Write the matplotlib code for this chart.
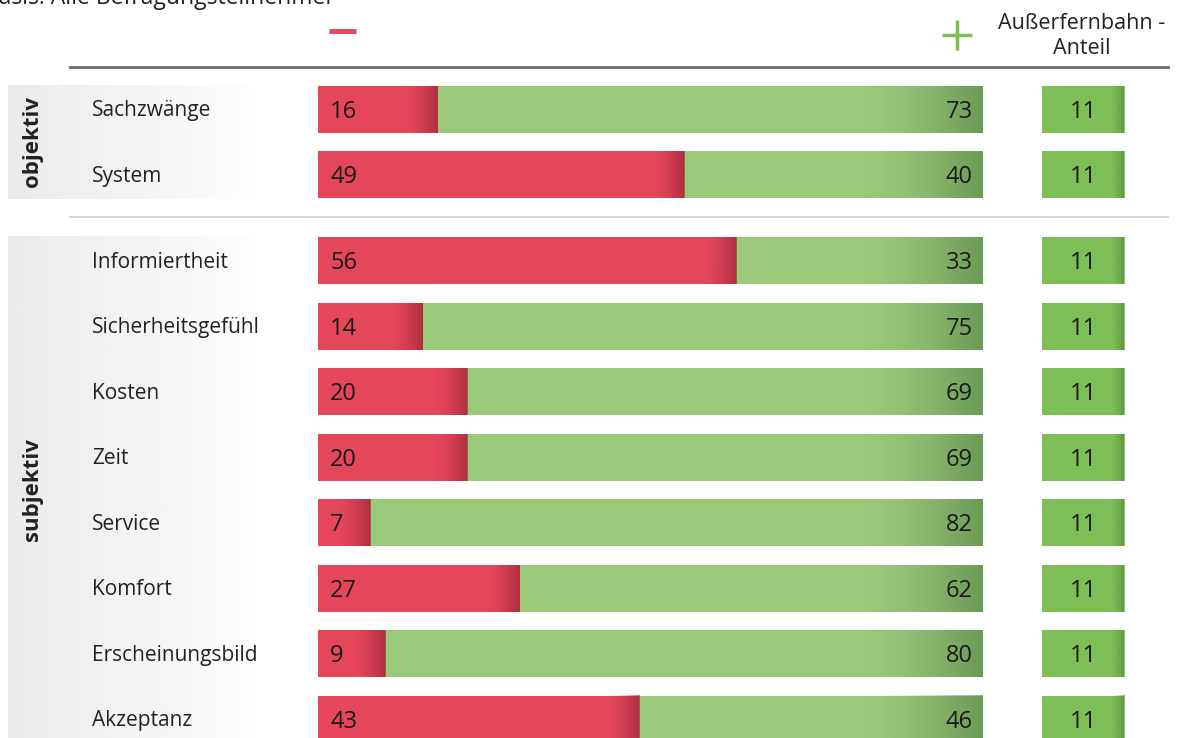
import numpy as np
import matplotlib.pyplot as plt
from matplotlib.colors import to_rgb

# data
categories = ["Sachzwänge", "System", "Informiertheit", "Sicherheitsgefühl", "Kosten",
              "Zeit", "Service", "Komfort", "Erscheinungsbild", "Akzeptanz"]
groups = ["objektiv", "subjektiv"]
group_of = [0, 0, 1, 1, 1, 1, 1, 1, 1, 1]
negative = [16, 49, 56, 14, 20, 20, 7, 27, 9, 43]
positive = [73, 40, 33, 75, 69, 69, 82, 62, 80, 46]
share = [11, 11, 11, 11, 11, 11, 11, 11, 11, 11]

RED = "#E5475A"
GREEN = "#9BC97A"
BOX = "#7DBE57"
FONT = "Open Sans"

W, H = 1178, 738
fig = plt.figure(figsize=(W / 100, H / 100), dpi=100)
ax = fig.add_axes([0, 0, 1, 1])

# layout helpers (pixel -> data)
x0_px, x1_px = 318, 983
unit = (x1_px - x0_px) / 89.0
pitch, top = 65.5, 109


def px(x):
    return (x - x0_px) / unit


def py(y):
    return (y - top) / pitch


def shade(xa, xb, yc, h, color, amax, power=1.5, reverse=False):
    n = 128
    rgba = np.zeros((1, n, 4))
    rgba[..., :3] = to_rgb(color)
    ramp = np.linspace(0, 1, n) ** power * amax
    rgba[..., 3] = ramp[::-1] if reverse else ramp
    ax.imshow(rgba, extent=(xa, xb, yc + h / 2, yc - h / 2), aspect="auto",
              interpolation="bilinear", zorder=3)


gap = (86 - pitch) / pitch
ypos = np.arange(len(categories)) + np.array(group_of) * gap
bh = 47 / pitch

# group background bands
for g, name in enumerate(groups):
    rows = ypos[np.array(group_of) == g]
    ya = rows.min() - bh / 2 - 0.01
    yb = rows.max() + bh / 2 + 0.01 if g == 0 else py(H + 5)
    shade(px(8), px(260), (ya + yb) / 2, yb - ya, "#EBEBEB", 1.0, power=0.9, reverse=True)
    ax.text(px(32), (ya + yb) / 2 if g == 0 else py(490), name, rotation=90,
            ha="center", va="center", fontsize=16, fontweight="bold",
            color="#222222", family=FONT, zorder=5)

neg = np.array(negative)
pos = np.array(positive)
shr = np.array(share)

ax.barh(ypos, neg, height=bh, color=RED, zorder=2)
ax.barh(ypos, pos, left=neg, height=bh, color=GREEN, zorder=2)
box_left = px(1042)
ax.barh(ypos, shr, left=box_left, height=bh, color=BOX, zorder=2)

for y, n, p, s, cat in zip(ypos, neg, pos, shr, categories):
    shade(n - 4.5, n, y, bh, "#8A1F30", 0.6)
    shade(n + p - 16, n + p, y, bh, "#4A7A42", 0.6)
    shade(box_left + s - 1.8, box_left + s, y, bh, "#4A7A30", 0.6)
    ty = y + 0.04
    ax.text(px(330), ty, str(n), ha="left", va="center", fontsize=17,
            color="#1a1a1a", family=FONT, zorder=5)
    ax.text(n + p - 1.4, ty, str(p), ha="right", va="center", fontsize=17,
            color="#1a1a1a", family=FONT, zorder=5)
    ax.text(box_left + s / 2, ty, str(s), ha="center", va="center", fontsize=17,
            color="#1a1a1a", family=FONT, zorder=5)
    ax.text(px(92), y + 0.03, cat, ha="left", va="center", fontsize=15,
            color="#222222", family=FONT, zorder=5)

# header
ax.text(px(-16), py(-2), "Basis: Alle Befragungsteilnehmer", ha="left", va="center",
        fontsize=16.5, color="#222222", family=FONT)
ax.plot([px(329), px(356)], [py(31), py(31)], color=RED, lw=3.5, solid_capstyle="butt")
ax.plot([px(942), px(972)], [py(35), py(35)], color="#7DC050", lw=2.5, solid_capstyle="butt")
ax.plot([px(957), px(957)], [py(20), py(50)], color="#7DC050", lw=2.5, solid_capstyle="butt")
ax.text(px(1082), py(36), "Außerfernbahn -\nAnteil", ha="center", va="center",
        fontsize=15.5, color="#222222", family=FONT, linespacing=1.25)
ax.plot([px(70), px(1168)], [py(67), py(67)], color="#6b6b6b", lw=2)
ax.plot([px(70), px(1168)], [py(217), py(217)], color="#cccccc", lw=1.2)

ax.set_xlim(px(0), px(W))
ax.set_ylim(py(H), py(0))
ax.axis("off")

fig.savefig("out.png", dpi=100, facecolor="white")
